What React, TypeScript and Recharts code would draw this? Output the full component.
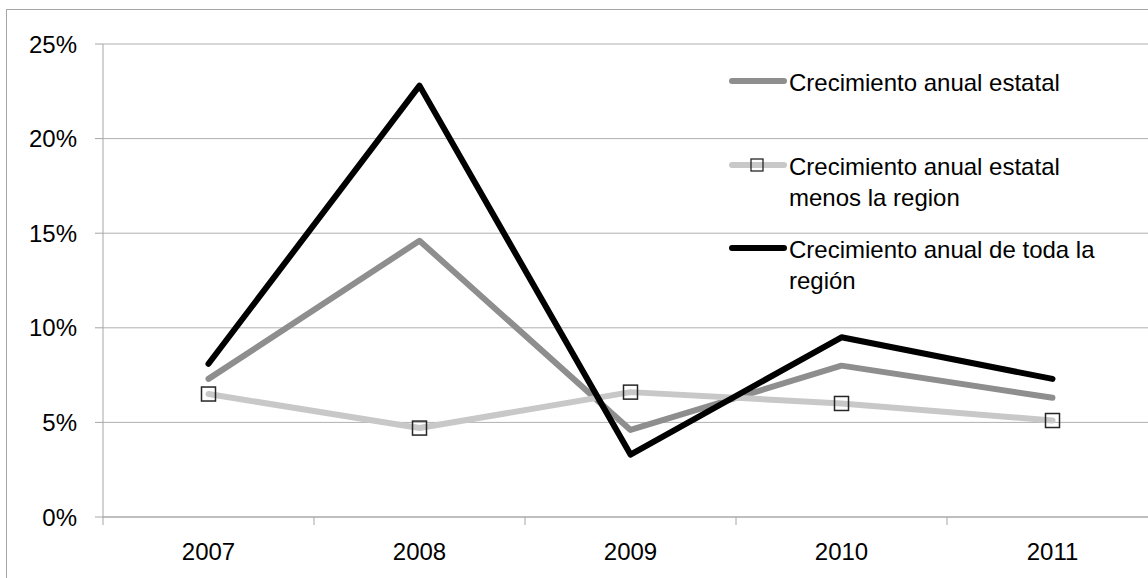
import React from 'react';
import { LineChart, Line, XAxis, YAxis, CartesianGrid, Legend } from 'recharts';

const years = ['2007', '2008', '2009', '2010', '2011'];
const estatal = [0.073, 0.146, 0.046, 0.080, 0.063];
const menosRegion = [0.065, 0.047, 0.066, 0.060, 0.051];
const todaRegion = [0.081, 0.228, 0.033, 0.095, 0.073];
const yTicks = [0, 0.05, 0.1, 0.15, 0.2, 0.25];

const seriesNames = [
  'Crecimiento anual estatal',
  'Crecimiento anual estatal menos la region',
  'Crecimiento anual de toda la región',
];

const data = years.map((y, i) => ({
  year: y,
  estatal: estatal[i],
  menos: menosRegion[i],
  toda: todaRegion[i],
}));

const FONT = '"Liberation Sans", Arial, sans-serif';
const AXIS_COLOR = '#a6a6a6';
const GRID_COLOR = '#b0b0b0';
const C_ESTATAL = '#8e8e8e';
const C_MENOS = '#c8c8c8';
const C_TODA = '#000000';

const SquareDot = (props: any) => {
  const { cx, cy } = props;
  if (cx == null || cy == null) return null;
  return <rect x={cx - 7} y={cy - 7} width={14} height={14} fill="none" stroke="#262626" strokeWidth={1.5} />;
};

const XTick = (props: any) => {
  const { x, y, payload, index, visibleTicksCount, width } = props;
  const half = payload && payload.offset != null && payload.offset > 0 ? payload.offset : width / (visibleTicksCount || 5) / 2;
  const axisY = y - 26;
  return (
    <g>
      <line x1={x - half} x2={x - half} y1={axisY} y2={axisY + 8} stroke={AXIS_COLOR} strokeWidth={1} />
      {index === (visibleTicksCount || 5) - 1 && (
        <line x1={x + half} x2={x + half} y1={axisY} y2={axisY + 8} stroke={AXIS_COLOR} strokeWidth={1} />
      )}
      <text x={x} y={y} dy="0.71em" textAnchor="middle" fill="#000" fontSize={24} fontFamily={FONT}>
        {payload.value}
      </text>
    </g>
  );
};

const legendItems = [
  { name: seriesNames[0], color: C_ESTATAL, square: false, top: 0 },
  { name: seriesNames[1], color: C_MENOS, square: true, top: 84 },
  { name: seriesNames[2], color: C_TODA, square: false, top: 167 },
];

const LegendContent = () => (
  <div style={{ position: 'relative', width: 400, height: 240, fontFamily: FONT, fontSize: 24, color: '#000' }}>
    {legendItems.map((it) => (
      <div key={it.name} style={{ position: 'absolute', left: 0, top: it.top, display: 'flex', alignItems: 'flex-start' }}>
        <svg width={60} height={31} style={{ display: 'block', flex: '0 0 auto' }}>
          <line x1={3} x2={55} y1={14} y2={14} stroke={it.color} strokeWidth={6} strokeLinecap="round" />
          {it.square && <rect x={22} y={8} width={12} height={12} fill="none" stroke="#262626" strokeWidth={1.3} />}
        </svg>
        <div style={{ width: 320, lineHeight: '31px' }}>{it.name}</div>
      </div>
    ))}
  </div>
);

export default function App() {
  return (
    <div style={{ position: 'absolute', left: 0, top: 0, width: 1148, height: 578, overflow: 'hidden', background: '#fff' }}>
      <div style={{ position: 'absolute', left: 6, top: 9, width: 1200, height: 640, border: `1px solid ${AXIS_COLOR}` }} />
      <div style={{ position: 'absolute', left: 0, top: 0 }}>
        <LineChart width={1170} height={578} data={data} margin={{ top: 44, right: 12, bottom: 0, left: 0 }}>
          <CartesianGrid vertical={false} stroke={GRID_COLOR} strokeWidth={1} />
          <XAxis
            dataKey="year"
            scale="band"
            height={61}
            tickLine={false}
            tickSize={8}
            tickMargin={18}
            axisLine={{ stroke: AXIS_COLOR }}
            tick={<XTick />}
            interval={0}
          />
          <YAxis
            width={103}
            domain={[0, 0.25]}
            ticks={yTicks}
            tickFormatter={(v: number) => `${Math.round(v * 100)}%`}
            tickSize={8}
            tickMargin={18}
            tickLine={{ stroke: AXIS_COLOR }}
            axisLine={{ stroke: AXIS_COLOR }}
            tick={{ fill: '#000', fontSize: 24, fontFamily: FONT }}
          />
          <Legend
            layout="vertical"
            align="center"
            verticalAlign="middle"
            content={<LegendContent />}
            wrapperStyle={{ position: 'absolute', left: 729, top: 67, width: 420, height: 260 }}
          />
          <Line
            dataKey="estatal"
            name={seriesNames[0]}
            stroke={C_ESTATAL}
            strokeWidth={6}
            strokeLinecap="round"
            strokeLinejoin="round"
            dot={false}
            activeDot={false}
            isAnimationActive={false}
          />
          <Line
            dataKey="menos"
            name={seriesNames[1]}
            stroke={C_MENOS}
            strokeWidth={6}
            strokeLinecap="round"
            strokeLinejoin="round"
            dot={<SquareDot />}
            activeDot={false}
            isAnimationActive={false}
          />
          <Line
            dataKey="toda"
            name={seriesNames[2]}
            stroke={C_TODA}
            strokeWidth={6}
            strokeLinecap="round"
            strokeLinejoin="round"
            dot={false}
            activeDot={false}
            isAnimationActive={false}
          />
        </LineChart>
      </div>
    </div>
  );
}
